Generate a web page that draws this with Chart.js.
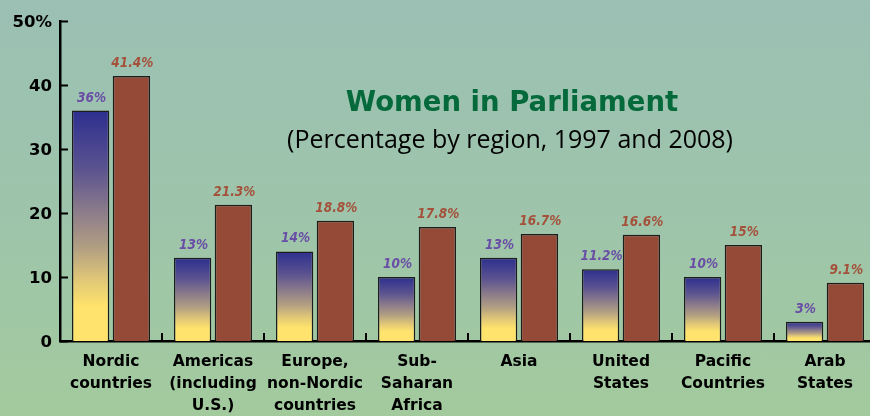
<!DOCTYPE html>
<html><head><meta charset="utf-8">
<script src="https://cdn.jsdelivr.net/npm/chart.js@4.4.1/dist/chart.umd.min.js"></script>
<style>
html,body{margin:0;padding:0;overflow:hidden;width:870px;height:416px;}
body{background:linear-gradient(to bottom,#9bc0b4 0%,#9ec5aa 55%,#a3ca9d 100%);}
canvas{display:block;}
</style></head><body>
<canvas id="c" width="876" height="416"></canvas>
<script>
const categories = [
  ["Nordic","countries"],
  ["Americas","(including","U.S.)"],
  ["Europe,","non-Nordic","countries"],
  ["Sub-","Saharan","Africa"],
  ["Asia"],
  ["United","States"],
  ["Pacific","Countries"],
  ["Arab","States"]
];
const values1997 = [36, 13, 14, 10, 13, 11.2, 10, 3];
const values2008 = [41.4, 21.3, 18.8, 17.8, 16.7, 16.6, 15, 9.1];
const labels1997 = ["36%","13%","14%","10%","13%","11.2%","10%","3%"];
const labels2008 = ["41.4%","21.3%","18.8%","17.8%","16.7%","16.6%","15%","9.1%"];
const yTickValues = [0, 10, 20, 30, 40, 50];
const yTickLabels = ["0", "10", "20", "30", "40", "50%"];
const titleText = "Women in Parliament";
const subtitleText = "(Percentage by region, 1997 and 2008)";

const BOLD = "'DejaVu Sans', sans-serif";
const COND = "'DejaVu Sans Condensed', 'DejaVu Sans', sans-serif";
const REG = "'Open Sans', Lato, sans-serif";

function blueGradient(ctx) {
  const chart = ctx.chart;
  const y = chart.scales && chart.scales.y;
  if (!y || ctx.type !== 'data') return '#3a3a90';
  const top = y.getPixelForValue(ctx.raw);
  const base = y.getPixelForValue(0);
  if (!isFinite(top) || !isFinite(base) || base - top < 1) return '#ffe36c';
  const g = chart.ctx.createLinearGradient(0, top, 0, base);
  g.addColorStop(0, '#2d2f8f');
  g.addColorStop(0.25, '#5a5290');
  g.addColorStop(0.43, '#8a7a8b');
  g.addColorStop(0.6, '#b3a082');
  g.addColorStop(0.73, '#dfc677');
  g.addColorStop(0.85, '#ffe36c');
  g.addColorStop(1, '#ffe36c');
  return g;
}

const decorPlugin = {
  id: 'decor',
  afterDatasetsDraw(chart) {
    const ctx = chart.ctx;
    const x = chart.scales.x, y = chart.scales.y;
    const area = chart.chartArea;
    ctx.save();
    ctx.strokeStyle = '#000';
    ctx.lineWidth = 2;
    yTickValues.forEach(v => {
      const py = Math.round(y.getPixelForValue(v)) + 0.5;
      ctx.beginPath();
      ctx.moveTo(area.left, py);
      ctx.lineTo(area.left + 8, py);
      ctx.stroke();
    });
    for (let i = 1; i < categories.length; i++) {
      const px = (x.getPixelForValue(i - 1) + x.getPixelForValue(i)) / 2;
      ctx.beginPath();
      ctx.moveTo(px, area.bottom);
      ctx.lineTo(px, area.bottom - 8);
      ctx.stroke();
    }
    ctx.textAlign = 'center';
    ctx.textBaseline = 'alphabetic';
    ctx.font = "italic bold 13.5px " + COND;
    const sets = [[labels1997, '#6a4ea6'], [labels2008, '#a4513b']];
    sets.forEach((s, di) => {
      const meta = chart.getDatasetMeta(di);
      ctx.fillStyle = s[1];
      meta.data.forEach((bar, j) => {
        ctx.fillText(s[0][j], bar.x + 1, bar.y - 9);
      });
    });
    ctx.fillStyle = '#046a3b';
    ctx.font = "bold 27.5px " + BOLD;
    ctx.fillText(titleText, 512, 111);
    ctx.fillStyle = '#000';
    ctx.font = "25px " + REG;
    ctx.fillText(subtitleText, 510, 148);
    ctx.restore();
  }
};

new Chart(document.getElementById('c'), {
  type: 'bar',
  data: {
    labels: categories,
    datasets: [
      { label: '1997', data: values1997, backgroundColor: blueGradient, borderColor: '#1c1c1c', borderWidth: 1.5 },
      { label: '2008', data: values2008, backgroundColor: '#954a38', borderColor: '#1c1c1c', borderWidth: 1.5 }
    ]
  },
  options: {
    responsive: false,
    animation: false,
    layout: { padding: { top: 21, right: 0, bottom: 0, left: 0 } },
    datasets: { bar: { categoryPercentage: 0.8, barPercentage: 0.915 } },
    plugins: { legend: { display: false }, tooltip: { enabled: false }, title: { display: false } },
    scales: {
      x: {
        grid: { display: false, drawTicks: false },
        border: { display: true, color: '#000', width: 2.5 },
        ticks: { color: '#000', font: { family: BOLD, weight: 'bold', size: 15.5, lineHeight: 1.42 }, padding: 10, maxRotation: 0, autoSkip: false },
        afterFit: s => { s.height = 75; }
      },
      y: {
        min: 0, max: 50,
        afterBuildTicks: s => { s.ticks = yTickValues.map(v => ({ value: v })); },
        grid: { display: false, drawTicks: false },
        border: { display: true, color: '#000', width: 2.5 },
        ticks: {
          color: '#000', font: { family: BOLD, weight: 'bold', size: 16.5 }, padding: 8, labelOffset: 2,
          callback: (v) => { const i = yTickValues.indexOf(v); return i >= 0 ? yTickLabels[i] : ''; }
        },
        afterFit: s => { s.width = 60; }
      }
    }
  },
  plugins: [decorPlugin]
});
</script>
</body></html>
